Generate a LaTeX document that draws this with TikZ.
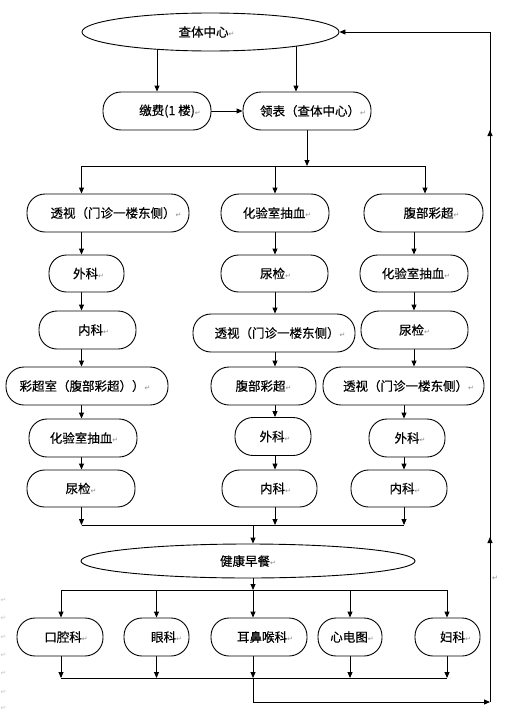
\documentclass[tikz,border=0pt]{standalone}
\usepackage{fontspec}
\setmainfont[FakeBold=0.4]{Noto Sans CJK SC}
\newfontfamily\symf{DejaVu Sans}
\usetikzlibrary{arrows.meta,decorations.markings,shapes.geometric,backgrounds}
\definecolor{retgray}{gray}{0.55}
\definecolor{marggray}{gray}{0.78}
\newcommand{\rt}{{\symf\color{retgray}\fontsize{7}{7}\selectfont ↵}}
\newcommand{\lbl}[2]{\hspace*{#1pt}#2\rt}
\tikzset{
  every path/.style={line width=0.9pt},
  boxnode/.style={draw, fill=white, rounded corners=18pt, minimum height=38pt,
    minimum width=#1pt, inner sep=0pt, font=\fontsize{12.5}{14}\selectfont},
  ovalnode/.style={draw, fill=white, ellipse, inner sep=0pt, minimum width=#1pt,
    font=\fontsize{12.5}{14}\selectfont},
  arr/.style={-{Triangle[length=6pt,width=5pt]}},
  retmark/.style={inner sep=0pt, font=\symf\fontsize{7}{7}\selectfont, text=marggray}
}
\begin{document}
\begin{tikzpicture}[x=1pt,y=-1pt]
\useasboundingbox (0,0) rectangle (519,715);
% top
\node[ovalnode=257, minimum height=38pt] (top) at (210.5,32) {\lbl{-8}{查体中心}};
\node[boxnode=108] (jf) at (157,111) {\lbl{26}{缴费(1 楼)}};
\node[boxnode=128] (lb) at (307,111) {\lbl{12}{领表（查体中心）}};
% column 1
\node[boxnode=162] (c1a) at (108,213) {\lbl{16}{透视（门诊一楼东侧）}};
\node[boxnode=75, minimum height=37pt, rounded corners=17.5pt] (c1b) at (86.5,273.5) {\lbl{4}{外科}};
\node[boxnode=97] (c1c) at (87.5,330) {\lbl{12}{内科}};
\node[boxnode=162] (c1d) at (87,386) {\lbl{-4}{彩超室（腹部彩超））}};
\node[boxnode=108] (c1e) at (83,438) {\lbl{2}{化验室抽血}};
\node[boxnode=108, minimum height=37pt, rounded corners=17.5pt] (c1f) at (81,488.5) {\lbl{0}{尿检}};
% column 2
\node[boxnode=108] (c2a) at (275,213) {\lbl{4}{化验室抽血}};
\node[boxnode=107, minimum height=37pt, rounded corners=17.5pt] (c2b) at (274.5,273.5) {\lbl{2}{尿检}};
\node[boxnode=162] (c2c) at (274,333) {\lbl{12}{透视（门诊一楼东侧）}};
\node[boxnode=105] (c2d) at (263.5,386) {\lbl{0}{腹部彩超}};
\node[boxnode=76] (c2e) at (273,436.5) {\lbl{4}{外科}};
\node[boxnode=95, minimum height=37pt, rounded corners=17.5pt] (c2f) at (269.5,488.5) {\lbl{12}{内科}};
% column 3
\node[boxnode=119] (c3a) at (423.5,213) {\lbl{16}{腹部彩超}};
\node[boxnode=108, minimum height=37pt, rounded corners=17.5pt] (c3b) at (414,273.5) {\lbl{4}{化验室抽血}};
\node[boxnode=107] (c3c) at (414.5,330) {\lbl{0}{尿检}};
\node[boxnode=161] (c3d) at (403.5,386) {\lbl{10}{透视（门诊一楼东侧）}};
\node[boxnode=76] (c3e) at (407,438) {\lbl{6}{外科}};
\node[boxnode=96, minimum height=37pt, rounded corners=17.5pt] (c3f) at (399,488.5) {\lbl{12}{内科}};
% breakfast
\node[ovalnode=334, minimum height=34pt] (bf) at (248,561) {\lbl{0}{健康早餐}};
% bottom row
\node[boxnode=86] (b1) at (60,637) {\lbl{12}{口腔科}};
\node[boxnode=65] (b2) at (156.5,637) {\lbl{20}{眼科}};
\node[boxnode=96] (b3) at (259,637) {\lbl{12}{耳鼻喉科}};
\node[boxnode=64] (b4) at (350,637) {\lbl{4}{心电图}};
\node[boxnode=65] (b5) at (447.5,637) {\lbl{16}{妇科}};
% stray paragraph marks
\node[retmark, text=retgray] (rm) at (495,578) {↵};
\foreach \yy [count=\i] in {600,618,637,655,673,692,708}
  \node[retmark] (lm\i) at (3.6,\yy) {↵};
% coordinates
\coordinate (p1) at (81.5,166);
\coordinate (p2) at (275,166);
\coordinate (p3) at (425,166);
\coordinate (q3) at (414,166);
\coordinate (m1) at (81.5,525);
\coordinate (m2) at (253,525);
\coordinate (m3) at (404,525);
\coordinate (n) at (253,590);
\coordinate (n1) at (61,590);
\coordinate (n5) at (447,590);
\coordinate (o) at (253,678);
\coordinate (r1) at (253,702);
\coordinate (r2) at (490,702);
\begin{scope}[on background layer]
\draw[arr] (jf.north |- top.center) -- (jf.north);
\draw[arr] ([xshift=-11pt]lb.north |- top.center) -- ([xshift=-11pt]lb.north);
\draw[arr] (jf.east) -- (lb.west);
\draw[arr] (lb.south) -- (lb.south |- p1);
\draw (p1) -- (p3);
\draw[arr] (p1) -- (p1 |- c1a.north);
\draw[arr] (p2) -- (p2 |- c2a.north);
\draw[arr] (p3) -- (p3 |- c3a.north);
% column 1 chain
\draw[arr] (p1 |- c1a.south) -- (p1 |- c1b.north);
\draw[arr] (p1 |- c1b.south) -- (p1 |- c1c.north);
\draw[arr] (p1 |- c1c.south) -- (p1 |- c1d.north);
\draw[arr] (p1 |- c1d.south) -- (p1 |- c1e.north);
\draw[arr] (p1 |- c1e.south) -- (p1 |- c1f.north);
\draw[arr] (p1 |- c1f.south) -- (m1);
% column 2 chain
\draw[arr] (p2 |- c2a.south) -- (p2 |- c2b.north);
\draw[arr] (p2 |- c2b.south) -- (p2 |- c2c.north);
\draw[arr] (p2 |- c2c.south) -- (p2 |- c2d.north);
\draw[arr] (p2 |- c2d.south) -- (p2 |- c2e.north);
\draw[arr] (p2 |- c2e.south) -- (p2 |- c2f.north);
\draw[arr] (p2 |- c2f.south) -- (p2 |- m1);
% column 3 chain
\draw[arr] (q3 |- c3a.south) -- (q3 |- c3b.north);
\draw[arr] (q3 |- c3b.south) -- (q3 |- c3c.north);
\draw[arr] (q3 |- c3c.south) -- (q3 |- c3d.north);
\draw[arr] (m3 |- c3d.south) -- (m3 |- c3e.north);
\draw[arr] (m3 |- c3e.south) -- (m3 |- c3f.north);
\draw[arr] (m3 |- c3f.south) -- (m3);
\draw (m1) -- (m3);
\draw[arr] (m2) -- (m2 |- bf.north);
% breakfast fan-out
\draw[arr] (n |- bf.center) -- (n);
\draw (n1) -- (n5);
\draw[arr] (n1) -- (n1 |- b1.north);
\draw[arr] (n -| b2) -- (b2.north);
\draw[arr] (n) -- (n |- b3.north);
\draw[arr] (n -| b4) -- (b4.north);
\draw[arr] (n5) -- (n5 |- b5.north);
% fan-in
\draw[arr] (b1.south -| n1) -- (n1 |- o);
\draw[arr] (b2.south) -- (b2.south |- o);
\draw[arr] (b3.south -| o) -- (o);
\draw[arr] (b4.south) -- (b4.south |- o);
\draw[arr] (b5.south -| n5) -- (n5 |- o);
\draw (n1 |- o) -- (n5 |- o);
% return loop
\draw[arr] (o) -- (r1) -- (r2);
\draw[arr, decoration={markings,
    mark=at position 165pt with {\arrow{Triangle[length=6pt,width=5pt]}},
    mark=at position 572pt with {\arrow{Triangle[length=6pt,width=5pt]}}},
    postaction={decorate}]
  (r2) -- (r2 |- top.east) -- (top.east);
\end{scope}
\end{tikzpicture}
\end{document}
